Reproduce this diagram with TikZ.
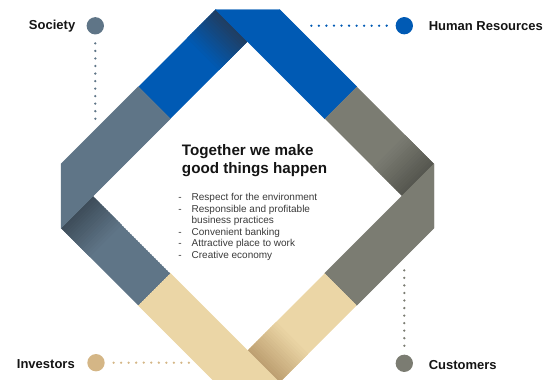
\documentclass[tikz,border=0pt]{standalone}
\usepackage{fontspec}
\setmainfont{Liberation Sans}
\usetikzlibrary{calc}
\definecolor{hrblue}{RGB}{0,90,180}
\definecolor{hrdark}{RGB}{32,62,98}
\definecolor{custgray}{RGB}{123,124,114}
\definecolor{custdark}{RGB}{86,87,80}
\definecolor{invbeige}{RGB}{235,214,166}
\definecolor{invdark}{RGB}{190,160,114}
\definecolor{invdot}{RGB}{212,182,134}
\definecolor{socslate}{RGB}{95,117,135}
\definecolor{socdark}{RGB}{62,77,90}
\definecolor{inkblack}{RGB}{20,20,20}
\definecolor{listgray}{RGB}{58,58,58}

\begin{document}
\begin{tikzpicture}[x=0.75pt, y=-0.75pt,
        dot/.style={circle, inner sep=0pt, minimum size=13pt},
        dotline/.style={line width=1.9pt, line cap=round, dash pattern=on 0pt off 5.65pt, shorten <=6.5pt},
        lbl/.style={font=\fontsize{9.75}{11}\selectfont\bfseries, text=inkblack, inner sep=0pt},
        motto/.style={font=\fontsize{11.4}{13.9}\selectfont\bfseries, text=inkblack, inner sep=0pt, anchor=base west},
        aims/.style={font=\fontsize{7.5}{8.6}\selectfont, text=listgray, inner sep=0pt, anchor=base west},
    ]
    \useasboundingbox (0,0) rectangle (545,379);

    % ribbon: one folded corner per turn, the outgoing arm lies on top
    \foreach \turn/\base/\shadow in {0/hrblue/hrdark, -90/custgray/custdark, -180/invbeige/invdark, -270/socslate/socdark}{
        \begin{scope}[rotate around={\turn:(247.5,196)}]
            \begin{scope}
                \clip (138.25,86.75) -- (170.25,118.75) -- (247.5,41.5) -- (215.5,9.5) -- cycle;
                \fill[\base] (138.25,86.75) -- (170.25,118.75) -- (247.5,41.5) -- (215.5,9.5) -- cycle;
                % shadow under the fold
                \foreach \k in {0,...,15}{
                    \pgfmathtruncatemacro\mix{100*\k/16}
                    \fill[\base!\mix!\shadow, shift={(231.5,25.5)}, rotate=-135] (2.5*\k,-24) rectangle (2.5*\k+3,24);
                }
            \end{scope}
            \filldraw[\base, line width=0.3pt] (215.5,9.5) -- (279.5,9.5) -- (356.75,86.75) -- (324.75,118.75) -- (247.5,41.5) -- cycle;
        \end{scope}
    }

    \node[dot, fill=socslate] (socdot) at (95.3,25.8) {};
    \node[lbl, anchor=base east] (soclbl) at (75.5,29.5) {Society};
    \coordinate (socend) at (95.3,119);
    \draw[dotline, socslate] (socdot) -- (socend);

    \node[dot, fill=hrblue] (hrdot) at (404.3,25.7) {};
    \node[lbl, anchor=base west] (hrlbl) at (428.5,30) {Human Resources};
    \coordinate (hrend) at (311,25.7);
    \draw[dotline, hrblue] (hrdot) -- (hrend);

    \node[dot, fill=invdot] (invdot) at (96,362.7) {};
    \node[lbl, anchor=base east] (invlbl) at (75,368.3) {Investors};
    \coordinate (invend) at (189.5,362.7);
    \draw[dotline, invdot] (invdot) -- (invend);

    \node[dot, fill=custgray] (custdot) at (404.3,363.3) {};
    \node[lbl, anchor=base west] (custlbl) at (428.5,369) {Customers};
    \coordinate (custend) at (404.3,270);
    \draw[dotline, custgray] (custdot) -- (custend);

    \node[motto] (title) at (181.7,155) {\begin{tabular}[t]{@{}l@{}}Together we make\\good things happen\end{tabular}};
    \node[aims] (list) at (178.2,200.8) {\begin{tabular}[t]{@{}l@{\hspace{7.4pt}}l@{}}
        - & Respect for the environment\\
        - & Responsible and profitable\\
          & business practices\\
        - & Convenient banking\\
        - & Attractive place to work\\
        - & Creative economy
    \end{tabular}};
\end{tikzpicture}
\end{document}
